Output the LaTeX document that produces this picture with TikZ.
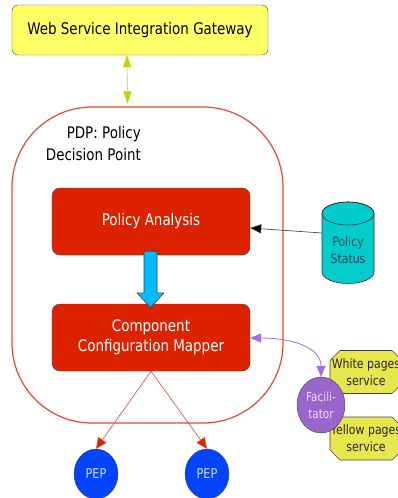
\documentclass[tikz,border=0pt]{standalone}
\usepackage{fontspec}
\setmainfont{DejaVu Sans}[FakeStretch=0.84]
\usetikzlibrary{shapes.geometric,arrows.meta,calc}
\definecolor{gwyellow}{HTML}{FFFF66}
\definecolor{boxred}{HTML}{DD2200}
\definecolor{pdpred}{HTML}{E84830}
\definecolor{fatblue}{HTML}{00BBFF}
\definecolor{cyl}{HTML}{00CCCC}
\definecolor{cyltext}{HTML}{2A4A5A}
\definecolor{facpurple}{HTML}{9966CC}
\definecolor{arrowpurple}{HTML}{A070D8}
\definecolor{facetext}{HTML}{EEDDFF}
\definecolor{octyellow}{HTML}{E6E64D}
\definecolor{pepblue}{HTML}{0044FF}
\definecolor{peptext}{HTML}{CCDDFF}
\definecolor{arrowyellow}{HTML}{CCCC00}
\definecolor{darkedge}{HTML}{444444}
\begin{document}
\begin{tikzpicture}[x=1pt,y=-1pt,
  bigtext/.style={font=\fontsize{16}{22}\selectfont},
  redbox/.style={draw=darkedge, fill=boxred, rounded corners=8pt, minimum width=198pt, minimum height=67pt, text=white, align=center, inner sep=0pt, font=\fontsize{16}{20}\selectfont},
  octshape/.style={draw=darkedge, fill=octyellow, line width=0.6pt},
  octtext/.style={inner sep=0pt, minimum width=72pt, minimum height=43pt, align=center, text=black!85, font=\fontsize{13}{17}\selectfont},
  pepnode/.style={ellipse, draw=black!70, fill=pepblue, minimum width=44pt, minimum height=50pt, inner sep=0pt, text=peptext, font=\fontsize{13.5}{15}\selectfont},
  redarrow/.style={draw=pdpred, line width=0.6pt, -{Triangle[length=11pt,width=10pt,fill=boxred]}},
  yellowarrow/.style={draw=arrowyellow, line width=0.6pt, {Triangle[length=12pt,width=8pt,fill=arrowyellow]}-{Triangle[length=12pt,width=8pt,fill=arrowyellow]}},
  purplearrow/.style={draw=arrowpurple, line width=0.8pt, {Triangle[length=11pt,width=9pt,fill=arrowpurple]}-{Triangle[length=11pt,width=9pt,fill=arrowpurple]}},
  blackarrow/.style={draw=black!80, line width=0.6pt, -{Triangle[length=11pt,width=9pt,fill=black]}}
]
\clip (0,0) rectangle (398,498);
\fill[white] (0,0) rectangle (398,498);

% gateway
\node[draw=darkedge, fill=gwyellow, rounded corners=6pt, minimum width=256pt, minimum height=50pt, inner sep=0pt, bigtext] (gateway) at (140,30) {Web Service Integration Gateway};

% PDP container
\node[draw=pdpred, line width=1.2pt, rounded corners=80pt, minimum width=271pt, minimum height=316pt] (pdp) at (147.5,265) {};
\node[align=right, inner sep=0pt, anchor=east, bigtext] (pdplabel) at (141,144) {PDP: Policy\\Decision Point};

% red boxes
\node[redbox] (analysis) at (151,221.5) {Policy Analysis};
\node[redbox] (mapper) at (151,337.5) {Component\\Configuration Mapper};

% fat blue arrow
\draw[draw=black!75, fill=fatblue, line width=0.6pt, line join=miter]
  ($(analysis.south)+(-7,-4)$) -- ($(mapper.north)+(-7,-11)$) -- ($(mapper.north)+(-14,-11)$)
  -- ($(mapper.north)+(-0.5,4)$) -- ($(mapper.north)+(13,-11)$) -- ($(mapper.north)+(6,-11)$)
  -- ($(analysis.south)+(6,-4)$) -- cycle;

% policy status cylinder (drawn directly around its text node)
\node[minimum width=52pt, minimum height=82pt, inner sep=0pt] (status) at (348,242.5) {};
\filldraw[fill=cyl, draw=black!80, line width=0.6pt]
  ($(status.center)+(-26,-29)$) -- ($(status.center)+(-26,29.5)$)
  arc[start angle=180, end angle=0, x radius=26, y radius=11.5]
  -- ($(status.center)+(26,-29)$)
  arc[start angle=0, end angle=-180, x radius=26, y radius=11.5] -- cycle;
\draw[black!80, line width=0.6pt] ($(status.center)+(0,-29)$) ellipse[x radius=26, y radius=11.5];
\node[align=center, inner sep=0pt, text=cyltext, font=\fontsize{13}{17}\selectfont] (statustext) at ($(status.center)+(0,7.5)$) {Policy\\Status};

% service octagons (chamfered boxes drawn directly)
\coordinate (whitec) at (366,372);
\coordinate (yellowc) at (366,438.5);
\foreach \c in {whitec,yellowc}{
  \draw[octshape] ($(\c)+(-26,-21.5)$) -- ($(\c)+(26,-21.5)$) -- ($(\c)+(36,-11.5)$) -- ($(\c)+(36,11.5)$)
    -- ($(\c)+(26,21.5)$) -- ($(\c)+(-26,21.5)$) -- ($(\c)+(-36,11.5)$) -- ($(\c)+(-36,-11.5)$) -- cycle;
}
\node[octtext] (white) at (whitec) {White pages\\service};
\node[octtext] (yellow) at (yellowc) {Yellow pages\\service};

% facilitator
\node[ellipse, draw=black!75, fill=facpurple, minimum width=48pt, minimum height=56pt, inner sep=0pt, align=center, text=facetext, font=\fontsize{12.5}{17}\selectfont] (fac) at (321,405) {Facili-\\tator};

% PEPs
\node[pepnode] (pep1) at (96,474) {PEP};
\node[pepnode] (pep2) at (207,474) {PEP};

% connectors
\draw[yellowarrow] ([xshift=-13pt]gateway.south) -- ([xshift=-20pt,yshift=3pt]pdp.north);
\draw[blackarrow] ($(status.center)+(-26,-9.5)$) -- ([yshift=-6.5pt]analysis.east);
\draw[purplearrow] ([yshift=-0.5pt]mapper.east) .. controls +(45,0) and +(0,-28) .. (fac.north);
\draw[redarrow] (mapper.south) -- (pep1.north);
\draw[redarrow] (mapper.south) -- (pep2.north);
\end{tikzpicture}
\end{document}
